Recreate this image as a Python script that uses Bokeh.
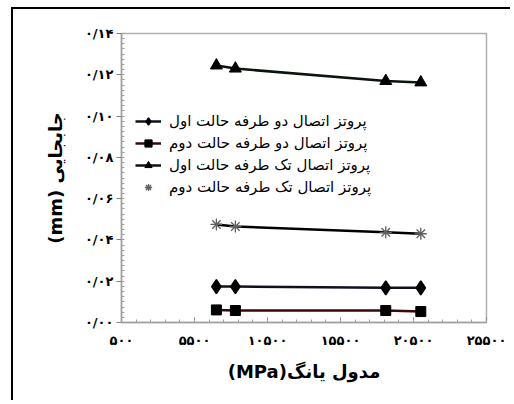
from bokeh.plotting import figure
from bokeh.models import (FixedTicker, Legend, LegendItem, Range1d)
from bokeh.embed import file_html
from bokeh.resources import INLINE
import numpy as np

# Data
young_modulus = [7000, 8300, 18600, 21000]
two_side_case1 = [0.0174, 0.0174, 0.0168, 0.0168]
two_side_case2 = [0.0061, 0.0058, 0.0058, 0.0053]
one_side_case1 = [0.1245, 0.1230, 0.1170, 0.1163]
one_side_case2 = [0.0475, 0.0465, 0.0437, 0.0430]

series_names = [
    "پروتز اتصال دو طرفه حالت اول",
    "پروتز اتصال دو طرفه حالت دوم",
    "پروتز اتصال تک طرفه حالت اول",
    "پروتز اتصال تک طرفه حالت دوم",
]

x_ticks = [500, 5500, 10500, 15500, 20500, 25500]
x_tick_labels = ["۵۰۰", "۵۵۰۰", "۱۰۵۰۰", "۱۵۵۰۰", "۲۰۵۰۰", "۲۵۵۰۰"]
y_ticks = [0.0, 0.02, 0.04, 0.06, 0.08, 0.10, 0.12, 0.14]
y_tick_labels = ["۰/۰۰", "۰/۰۲", "۰/۰۴", "۰/۰۶", "۰/۰۸", "۰/۱۰", "۰/۱۲", "۰/۱۴"]

x_title = "(MPa)مدول یانگ"
y_title = "(mm) جابجایی"

FONT = "DejaVu Sans"

p = figure(width=499, height=393, output_backend="svg", toolbar_location=None,
           x_range=Range1d(500, 25500), y_range=Range1d(0, 0.14),
           min_border_left=108, min_border_right=26, min_border_top=24,
           min_border_bottom=80)
p.styles = {"border-left": "2px solid black", "border-top": "2px solid black",
            "margin-left": "11px", "margin-top": "7px"}

p.xgrid.visible = False
p.ygrid.visible = False
p.outline_line_color = "#b0b0b0"
p.outline_line_width = 1.5
p.background_fill_color = "white"
p.border_fill_color = "white"

# axes
p.xaxis.ticker = FixedTicker(ticks=x_ticks, minor_ticks=list(np.arange(500, 25501, 1000)))
p.xaxis.major_label_overrides = {t: l for t, l in zip(x_ticks, x_tick_labels)}
p.yaxis.ticker = FixedTicker(ticks=y_ticks, minor_ticks=list(np.arange(0, 0.1401, 0.0025)))
p.yaxis.major_label_overrides = {t: l for t, l in zip(y_ticks, y_tick_labels)}

for ax in (p.xaxis[0], p.yaxis[0]):
    ax.axis_line_color = "#a0a0a0"
    ax.axis_line_width = 1.5
    ax.major_tick_line_color = "#808080"
    ax.minor_tick_line_color = "#a0a0a0"
    ax.major_label_text_font = FONT
    ax.major_label_text_font_style = "bold"
    ax.major_label_text_font_size = "13px"
    ax.major_label_text_color = "black"
    ax.axis_label_text_font = FONT
    ax.axis_label_text_font_style = "bold"
    ax.axis_label_text_font_size = "18px"
    ax.axis_label_text_color = "black"

p.xaxis.major_tick_in = 5
p.xaxis.major_tick_out = 0
p.xaxis.minor_tick_in = 3
p.xaxis.minor_tick_out = 0
p.xaxis.major_label_standoff = 10
p.xaxis.axis_label = x_title
p.xaxis.axis_label_standoff = 10

p.yaxis.major_tick_in = 0
p.yaxis.major_tick_out = 5
p.yaxis.minor_tick_in = 3
p.yaxis.minor_tick_out = 0
p.yaxis.major_label_standoff = 3
p.yaxis.axis_label = y_title
p.yaxis.axis_label_standoff = 16

# series
l1 = p.line(young_modulus, two_side_case1, line_color="#101020", line_width=2.5)
s1 = p.scatter(young_modulus, two_side_case1, marker="diamond", size=14,
               fill_color="black", line_color="black", line_width=1.5)
l2 = p.line(young_modulus, two_side_case2, line_color="#3a0808", line_width=2.5)
s2 = p.scatter(young_modulus, two_side_case2, marker="square", size=10,
               fill_color="black", line_color="black")
l3 = p.line(young_modulus, one_side_case1, line_color="#0a140a", line_width=2.5)
s3 = p.scatter(young_modulus, one_side_case1, marker="triangle", size=12,
               fill_color="black", line_color="black")
l4 = p.line(young_modulus, one_side_case2, line_color="black", line_width=2.5)
s4 = p.scatter(young_modulus, one_side_case2, marker="asterisk", size=12,
               line_color="#606060", line_width=1.3)

legend = Legend(items=[
    LegendItem(label=series_names[0], renderers=[l1, s1]),
    LegendItem(label=series_names[1], renderers=[l2, s2]),
    LegendItem(label=series_names[2], renderers=[l3, s3]),
    LegendItem(label=series_names[3], renderers=[s4]),
], location=(12, 124), orientation="vertical")
legend.background_fill_alpha = 0
legend.border_line_alpha = 0
legend.label_text_font = FONT
legend.label_text_font_size = "15px"
legend.label_text_color = "black"
legend.glyph_width = 26
legend.glyph_height = 18
legend.label_height = 18
legend.spacing = 4
legend.padding = 2
legend.label_standoff = 8
p.add_layout(legend, "center")

open("out.html", "w").write(file_html(p, INLINE))
